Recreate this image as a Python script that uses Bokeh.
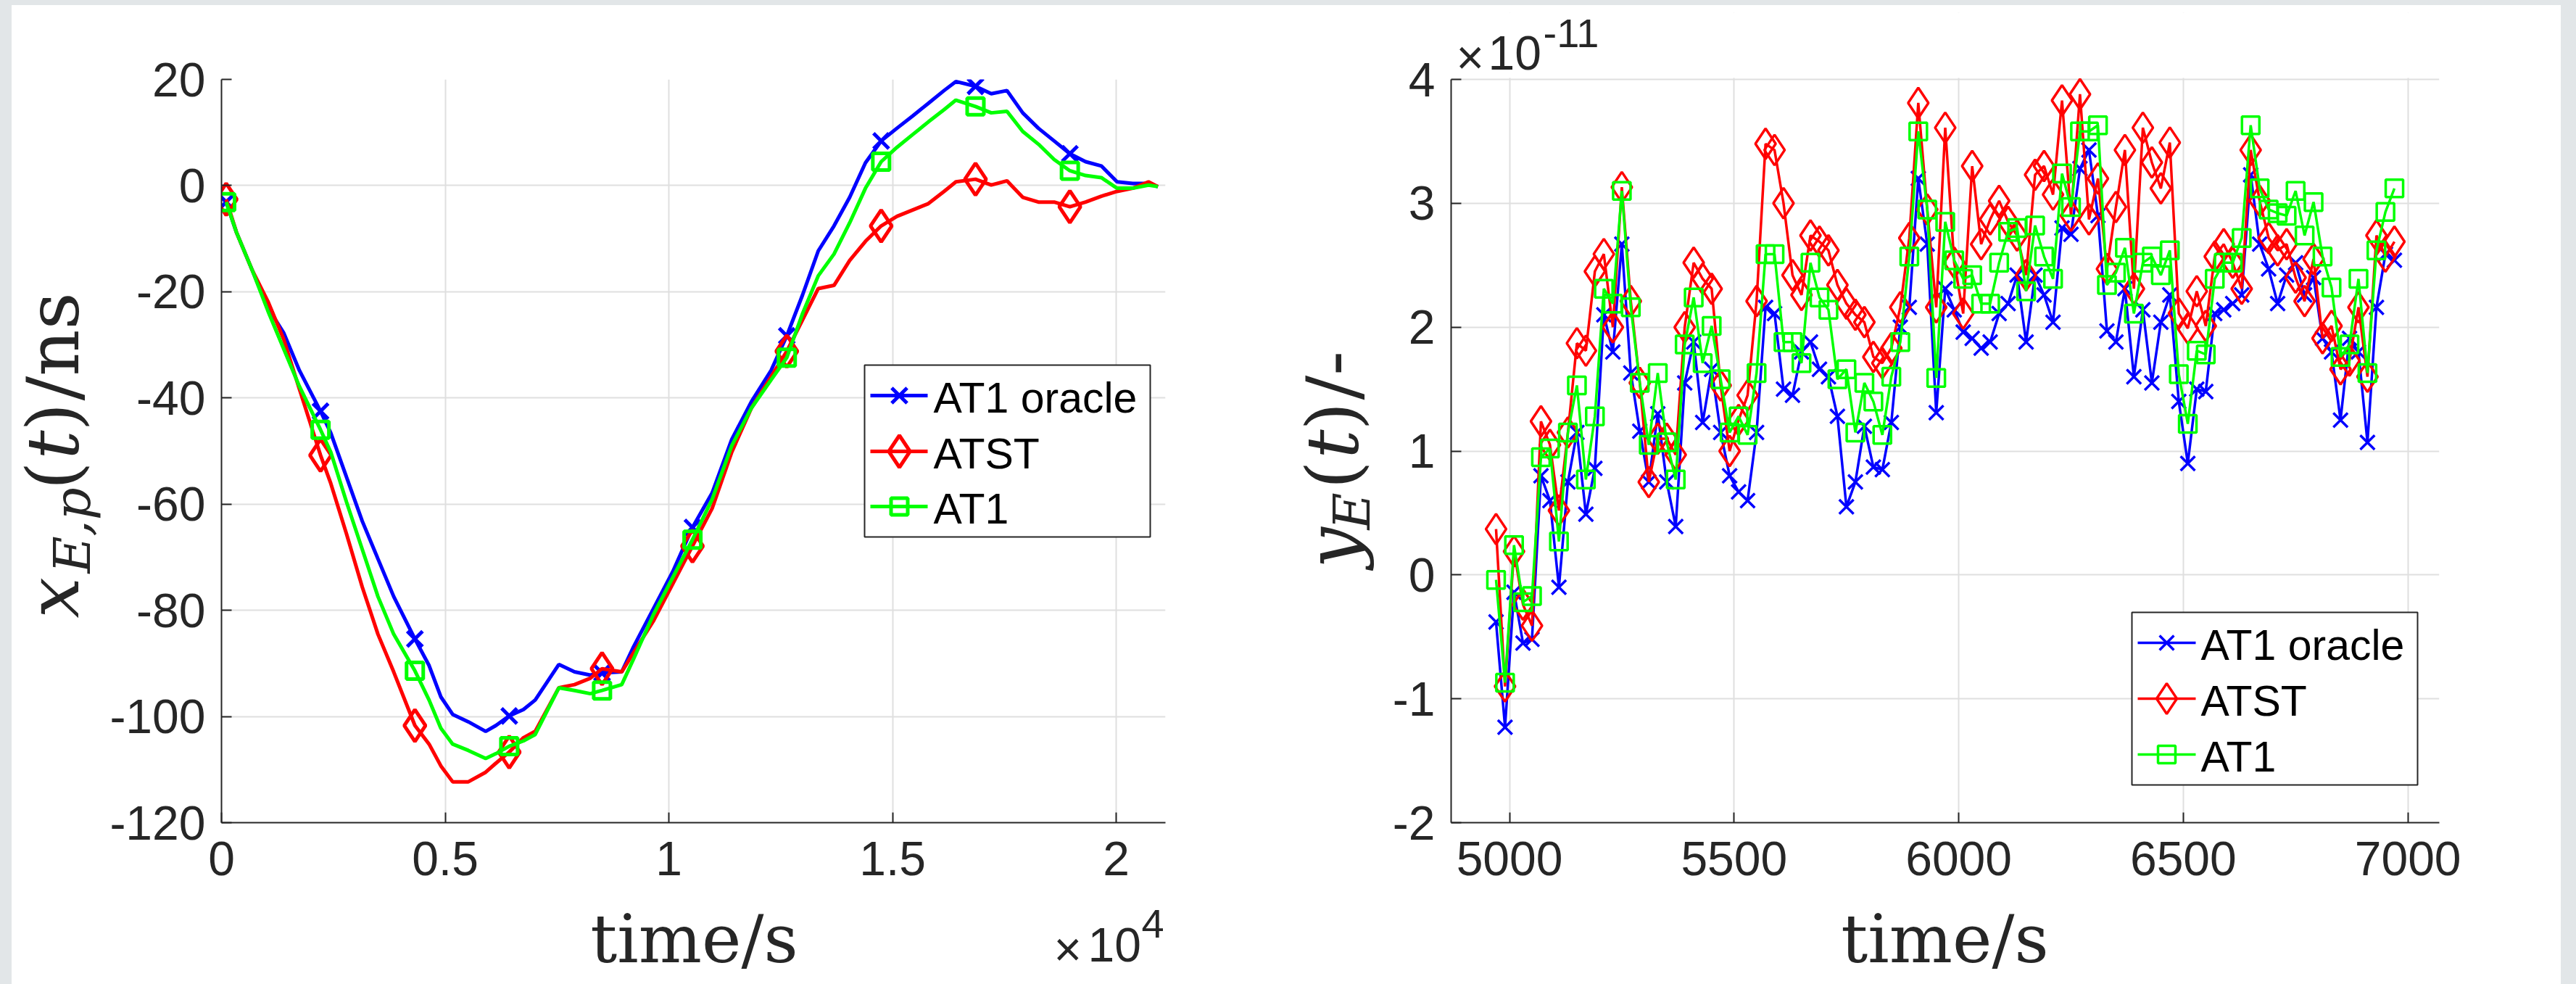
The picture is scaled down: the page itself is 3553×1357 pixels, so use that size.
import numpy as np
from bokeh.plotting import figure
from bokeh.models import Range1d, FixedTicker, Spacer
from bokeh.layouts import row, column
from bokeh.embed import file_html
from bokeh.resources import INLINE
from bokeh.core.properties import value

# ---------------- data: left panel  x_{E,p}(t) / ns ----------------
t_left = [105, 334, 685, 1037, 1388, 1740, 2214, 2443, 2794, 3146,
          3497, 3849, 4323, 4640, 4903, 5167, 5518, 5905, 6134, 6432,
          6749, 7012, 7540, 7891, 8243, 8506, 8946, 9209, 9649, 10088,
          10527, 10967, 11406, 11845, 12285, 12636, 12988, 13339, 13691, 14042,
          14394, 14745, 15097, 15448, 15800, 16151, 16415, 16854, 17206, 17557,
          17909, 18260, 18612, 18963, 19315, 19666, 20018, 20369, 20721, 20932]
xEp_AT1_oracle = [-3.1, -8.8, -15.9, -23.0, -27.7, -34.8, -42.5, -46.6, -54.9, -63.2,
                  -70.3, -77.4, -85.4, -90.4, -96.3, -99.6, -101.0, -102.8, -101.7, -99.9,
                  -98.7, -96.9, -90.2, -91.6, -92.2, -91.8, -91.6, -86.9, -79.8, -72.7,
                  -64.4, -57.9, -47.8, -40.7, -34.8, -28.3, -20.6, -12.3, -7.6, -2.2,
                  4.3, 8.4, 10.8, 13.1, 15.5, 17.9, 19.6, 18.7, 17.3, 17.9,
                  13.7, 10.8, 8.4, 6.0, 4.5, 3.7, 0.7, 0.4, 0.4, -0.2]
xEp_ATST = [-2.6, -8.8, -15.9, -21.8, -28.9, -38.3, -50.8, -56.1, -65.6, -75.6,
            -84.5, -91.6, -101.7, -105.2, -109.3, -112.3, -112.3, -110.5, -108.8, -106.7,
            -104.0, -102.8, -94.6, -94.0, -92.8, -91.0, -91.6, -88.0, -82.1, -75.0,
            -67.9, -60.8, -50.2, -41.9, -36.0, -31.2, -25.3, -19.4, -18.8, -14.1,
            -10.5, -7.6, -5.8, -4.6, -3.4, -1.1, 0.7, 1.2, 0.1, 0.9,
            -2.2, -3.1, -3.1, -4.0, -3.1, -2.0, -1.1, -0.5, 0.7, -0.2]
xEp_AT1 = [-3.1, -8.8, -15.9, -23.6, -30.7, -37.8, -46.0, -50.2, -59.6, -68.5,
           -77.4, -84.5, -91.4, -96.9, -102.2, -105.2, -106.4, -107.9, -107.0, -105.6,
           -104.6, -103.4, -94.6, -95.1, -95.7, -95.1, -94.0, -89.2, -80.9, -73.8,
           -66.7, -59.1, -49.0, -41.9, -36.6, -32.4, -24.1, -17.0, -12.9, -7.0,
           -0.5, 4.5, 7.2, 9.6, 12.0, 14.3, 16.1, 14.9, 13.7, 14.0,
           10.2, 7.8, 4.9, 2.8, 1.9, 1.5, -0.5, -0.5, 0.1, -0.2]
left_marker_idx = [0, 6, 12, 19, 25, 30, 35, 41, 47, 53]
left_xticks = [0, 5000, 10000, 15000, 20000]
left_xtick_labels = ["0", "0.5", "1", "1.5", "2"]
left_yticks = [-120, -100, -80, -60, -40, -20, 0, 20]

# ---------------- data: right panel  y_E(t) (units of 1e-11) ----------------
t_right = [4970, 4990, 5010, 5030, 5050, 5070, 5090, 5110, 5130, 5150,
           5170, 5190, 5210, 5230, 5250, 5270, 5290, 5310, 5330, 5350,
           5370, 5390, 5410, 5430, 5450, 5470, 5490, 5510, 5530, 5550,
           5570, 5590, 5610, 5630, 5650, 5670, 5690, 5710, 5730, 5750,
           5770, 5790, 5810, 5830, 5850, 5870, 5890, 5910, 5930, 5950,
           5970, 5990, 6010, 6030, 6050, 6070, 6090, 6110, 6130, 6150,
           6170, 6190, 6210, 6230, 6250, 6270, 6290, 6310, 6330, 6350,
           6370, 6390, 6410, 6430, 6450, 6470, 6490, 6510, 6530, 6550,
           6570, 6590, 6610, 6630, 6650, 6670, 6690, 6710, 6730, 6750,
           6770, 6790, 6810, 6830, 6850, 6870, 6890, 6910, 6930, 6950, 6970]
yE_AT1_oracle = [-0.38, -1.23, -0.14, -0.55, -0.52, 0.80, 0.60, -0.10, 0.75, 1.15,
                 0.49, 0.86, 2.10, 1.80, 2.67, 1.63, 1.16, 0.75, 1.30, 0.75,
                 0.39, 1.55, 1.88, 1.23, 1.66, 1.15, 0.80, 0.67, 0.60, 1.15,
                 2.16, 2.11, 1.50, 1.45, 1.80, 1.88, 1.66, 1.60, 1.28, 0.55,
                 0.75, 1.20, 0.87, 0.85, 1.23, 2.00, 2.16, 3.20, 2.67, 1.31,
                 2.31, 2.14, 1.96, 1.91, 1.83, 1.88, 2.11, 2.19, 2.42, 1.88,
                 2.42, 2.26, 2.04, 2.80, 2.75, 3.28, 3.43, 2.90, 1.97, 1.88,
                 2.31, 1.60, 2.14, 1.55, 2.04, 2.26, 1.40, 0.90, 1.50, 1.48,
                 2.11, 2.14, 2.19, 2.26, 3.23, 2.67, 2.47, 2.19, 2.42, 2.52,
                 2.26, 2.40, 1.91, 1.80, 1.25, 1.91, 1.80, 1.07, 2.16, 2.59, 2.54]
yE_ATST = [0.37, -0.90, 0.19, -0.24, -0.41, 1.24, 1.05, 0.52, 1.15, 1.87,
           1.81, 2.45, 2.59, 2.00, 3.13, 2.21, 1.55, 0.75, 1.10, 1.10,
           0.97, 2.00, 2.52, 2.39, 2.31, 1.53, 1.00, 1.25, 1.45, 2.21,
           3.48, 3.43, 3.00, 2.42, 2.26, 2.74, 2.69, 2.62, 2.34, 2.19,
           2.10, 2.04, 1.76, 1.71, 1.83, 2.16, 2.72, 3.81, 2.95, 2.16,
           3.61, 2.52, 2.11, 3.30, 2.67, 2.87, 3.02, 2.85, 2.74, 2.42,
           3.23, 3.30, 3.07, 3.83, 2.90, 3.88, 2.87, 3.20, 2.47, 2.97,
           3.43, 2.31, 3.61, 3.33, 3.12, 3.49, 2.11, 1.99, 2.29, 2.01,
           2.57, 2.67, 2.52, 2.31, 3.43, 3.02, 2.72, 2.62, 2.67, 2.40,
           2.21, 2.55, 1.91, 2.01, 1.66, 1.73, 2.16, 1.60, 2.74, 2.57, 2.69]
yE_AT1 = [-0.04, -0.87, 0.24, -0.22, -0.17, 0.95, 1.02, 0.27, 1.15, 1.53,
          0.77, 1.28, 2.31, 2.19, 3.10, 2.16, 1.55, 1.05, 1.63, 1.07,
          0.77, 1.86, 2.24, 1.71, 2.01, 1.58, 1.15, 1.28, 1.13, 1.63,
          2.59, 2.59, 1.88, 1.88, 1.71, 2.52, 2.24, 2.14, 1.58, 1.66,
          1.15, 1.55, 1.40, 1.13, 1.60, 1.88, 2.57, 3.58, 2.95, 1.59,
          2.85, 2.54, 2.39, 2.42, 2.19, 2.19, 2.52, 2.77, 2.80, 2.29,
          2.82, 2.57, 2.39, 3.24, 2.97, 3.58, 3.58, 3.63, 2.34, 2.44,
          2.64, 2.11, 2.52, 2.57, 2.42, 2.62, 1.62, 1.22, 1.81, 1.78,
          2.39, 2.52, 2.52, 2.72, 3.63, 3.12, 2.95, 2.92, 2.90, 3.10,
          2.74, 3.01, 2.57, 2.32, 1.76, 1.86, 2.39, 1.63, 2.62, 2.93, 3.12]
right_xticks = [5000, 5500, 6000, 6500, 7000]
right_yticks = [-2, -1, 0, 1, 2, 3, 4]

series_names = ["AT1 oracle", "ATST", "AT1"]
series_colors = ["#0000ff", "#ff0000", "#00ff00"]
series_markers = ["x", "diamond", "square"]

# ---------------- style / layout (page pixels) ----------------
GRAY = "#e2e6e8"
INK = "#262626"
PAGE_W, PAGE_H = 3553, 1357
PAD_L, PAD_T, PAD_R = 16, 7, 21
SPLIT = 1780
XLAB_TOP = 1240          # top of the strip that holds the x labels
YLAB1_R = 140            # right edge of left y-label strip
YLAB2_R = 1905           # right edge of right y-label strip

LF = dict(left=305, right=1607, top=109, bottom=1134)
RF = dict(left=2001, right=3364, top=109, bottom=1134)
L_XR, L_YR = (0, 21100), (-120, 20)
R_XR, R_YR = (4870, 7070), (-2, 4)
R_FRAME_TOP = 17         # right frame extended upward to hold the exponent text


def make_conv(F, xr, yr):
    def conv(px, py):
        x = xr[0] + (px - F["left"]) * (xr[1] - xr[0]) / (F["right"] - F["left"])
        y = yr[1] - (py - F["top"]) * (yr[1] - yr[0]) / (F["bottom"] - F["top"])
        return x, y
    return conv


def make_fig(F, xr, yr_draw, x0, x1, frame_top, xticks, yticks):
    p = figure(width=x1 - x0, height=XLAB_TOP - PAD_T,
               x_range=Range1d(*xr), y_range=Range1d(*yr_draw),
               output_backend="svg", toolbar_location=None, frame_align=False,
               min_border_left=F["left"] - x0, min_border_right=x1 - F["right"],
               min_border_top=frame_top - PAD_T, min_border_bottom=XLAB_TOP - F["bottom"])
    p.outline_line_color = None
    p.background_fill_color = "white"
    p.border_fill_color = "white"
    p.xaxis.ticker = FixedTicker(ticks=xticks)
    p.yaxis.ticker = FixedTicker(ticks=yticks)
    p.yaxis.major_label_overrides = {v: str(v) for v in yticks}
    for ax in (p.xaxis[0], p.yaxis[0]):
        ax.axis_line_color = INK
        ax.axis_line_width = 2
        ax.major_tick_in = 14
        ax.major_tick_out = 0
        ax.major_tick_line_width = 2
        ax.major_tick_line_color = INK
        ax.minor_tick_line_color = None
        ax.major_label_text_font = "Liberation Sans"
        ax.major_label_text_font_size = "66px"
        ax.major_label_text_color = INK
    p.yaxis.major_label_standoff = 22
    p.xaxis.major_label_standoff = 26
    for g in (p.xgrid[0], p.ygrid[0]):
        g.grid_line_color = "#dfdfdf"
        g.grid_line_width = 2
    return p


def text_fig(x0, y0, x1, y1):
    w, h = x1 - x0, y1 - y0
    f = figure(width=w, height=h, x_range=Range1d(0, w), y_range=Range1d(h, 0),
               x_axis_type=None, y_axis_type=None, output_backend="svg",
               toolbar_location=None, min_border=0, frame_align=False)
    f.outline_line_color = None
    f.background_fill_color = "white"
    f.border_fill_color = "white"
    return f, (x0, y0)


def ftext(f, org, px, py, text, font, size, style="normal", align="left", angle=0.0,
          color=INK):
    f.text([px - org[0]], [py - org[1]], text=[text], text_font=value(font),
           text_font_size=f"{size}px", text_font_style=style, text_align=align,
           text_baseline="middle", angle=angle, text_color=color)


def ptext(p, conv, px, py, text, font, size, style="normal", align="left", color=INK):
    x, y = conv(px, py)
    p.text([x], [y], text=[text], text_font=value(font), text_font_size=f"{size}px",
           text_font_style=style, text_align=align, text_baseline="middle",
           text_color=color)


def draw_series(p, t, ys, marker_idx, lw, sizes):
    for y, c, m, s in zip(ys, series_colors, series_markers, sizes):
        p.line(t, y, line_color=c, line_width=lw)
        mt = [t[i] for i in marker_idx]
        my = [y[i] for i in marker_idx]
        p.scatter(mt, my, marker=m, size=s, line_color=c, line_width=lw, fill_color=None)


def draw_legend(p, conv, box, rows, line_x, mk_x, text_x, lw, sizes):
    l, t = conv(box[0], box[2])
    r, b = conv(box[1], box[3])
    p.quad(left=[l], right=[r], top=[t], bottom=[b], fill_color="white",
           line_color=INK, line_width=2)
    for name, c, m, s, ry in zip(series_names, series_colors, series_markers, sizes, rows):
        xa, ya = conv(line_x[0], ry)
        xb, _ = conv(line_x[1], ry)
        p.segment(x0=[xa], y0=[ya], x1=[xb], y1=[ya], line_color=c, line_width=lw)
        xm, _ = conv(mk_x, ry)
        p.scatter([xm], [ya], marker=m, size=s, line_color=c, line_width=lw, fill_color=None)
        ptext(p, conv, text_x, ry + 3, name, "Liberation Sans", 59, color="black")


MID_SERIF = 0.346   # middle line above baseline, in em
MID_SANS = 0.3465

# ---------------- left panel ----------------
convL = make_conv(LF, L_XR, L_YR)
p1 = make_fig(LF, L_XR, L_YR, YLAB1_R, SPLIT, LF["top"], left_xticks, left_yticks)
p1.xaxis.major_label_overrides = {k: v for k, v in zip(left_xticks, left_xtick_labels)}
draw_series(p1, t_left, [xEp_AT1_oracle, xEp_ATST, xEp_AT1], left_marker_idx, 5,
            [30, 44, 23])
draw_legend(p1, convL, (1192, 1586, 503, 740), [545, 622, 698], (1200, 1279), 1240, 1287,
            5, [30, 44, 23])

ylab1, oy1 = text_fig(PAD_L, PAD_T, YLAB1_R, PAGE_H)
for txt, st, sz, py, base in [("x", "italic", 100, 852, 108), ("E,p", "italic", 70, 790, 124),
                              ("(", "normal", 100, 675, 108), ("t", "italic", 100, 633, 108),
                              (")", "normal", 100, 594, 108), ("/ns", "normal", 100, 552, 108)]:
    ftext(ylab1, oy1, base - MID_SERIF * sz, py, txt, "DejaVu Serif", sz, style=st,
          angle=np.pi / 2)

xlab1, ox1 = text_fig(YLAB1_R, XLAB_TOP, SPLIT, PAGE_H)
ftext(xlab1, ox1, 957, 1327 - MID_SERIF * 92, "time/s", "DejaVu Serif", 92, align="center")
ftext(xlab1, ox1, 1453, 1331 - MID_SANS * 66, "×", "Liberation Sans", 66)
ftext(xlab1, ox1, 1500, 1325 - MID_SANS * 66, "10", "Liberation Sans", 66)
ftext(xlab1, ox1, 1574, 1293 - MID_SANS * 56, "4", "Liberation Sans", 56)

# ---------------- right panel ----------------
convR = make_conv(RF, R_XR, R_YR)
r_top_val = R_YR[1] + (RF["top"] - R_FRAME_TOP) * (R_YR[1] - R_YR[0]) / (RF["bottom"] - RF["top"])
p2 = make_fig(RF, R_XR, (R_YR[0], r_top_val), YLAB2_R, PAGE_W - PAD_R, R_FRAME_TOP,
              right_xticks, right_yticks)
p2.yaxis.bounds = R_YR
_, mask_bottom = convR(0, RF["top"] - 2)
p2.quad(left=[R_XR[0]], right=[R_XR[1]], bottom=[mask_bottom], top=[r_top_val],
        fill_color="white", line_color=None)
draw_series(p2, t_right, [yE_AT1_oracle, yE_ATST, yE_AT1], list(range(len(t_right))), 3.5,
            [28, 42, 24])
draw_legend(p2, convR, (2940, 3334, 844, 1082), [886, 963, 1040], (2948, 3028), 2988, 3035,
            3.5, [28, 42, 24])
ptext(p2, convR, 2008, 101 - MID_SANS * 66, "×", "Liberation Sans", 66)
ptext(p2, convR, 2052, 95 - MID_SANS * 66, "10", "Liberation Sans", 66)
ptext(p2, convR, 2128, 65 - MID_SANS * 56, "-11", "Liberation Sans", 56)

ylab2, oy2 = text_fig(SPLIT, PAD_T, YLAB2_R, PAGE_H)
for txt, st, sz, py, base in [("y", "italic", 100, 783, 1873), ("E", "italic", 70, 730, 1889),
                              ("(", "normal", 100, 674, 1873), ("t", "italic", 100, 632, 1873),
                              (")", "normal", 100, 593, 1873), ("/-", "normal", 100, 551, 1873)]:
    ftext(ylab2, oy2, base - MID_SERIF * sz, py, txt, "DejaVu Serif", sz, style=st,
          angle=np.pi / 2)

xlab2, ox2 = text_fig(YLAB2_R, XLAB_TOP, PAGE_W - PAD_R, PAGE_H)
ftext(xlab2, ox2, 2682, 1327 - MID_SERIF * 92, "time/s", "DejaVu Serif", 92, align="center")

# ---------------- page ----------------
top_strip = Spacer(width=PAGE_W, height=PAD_T, styles={"background-color": GRAY})
left_strip = Spacer(width=PAD_L, height=PAGE_H - PAD_T, styles={"background-color": GRAY})
right_strip = Spacer(width=PAD_R, height=PAGE_H - PAD_T, styles={"background-color": GRAY})
left_block = row(ylab1, column(p1, xlab1, spacing=0), spacing=0)
right_block = row(ylab2, column(p2, xlab2, spacing=0), spacing=0)
layout = column(top_strip, row(left_strip, left_block, right_block, right_strip, spacing=0),
                spacing=0)

open("out.html", "w").write(file_html(layout, INLINE))
